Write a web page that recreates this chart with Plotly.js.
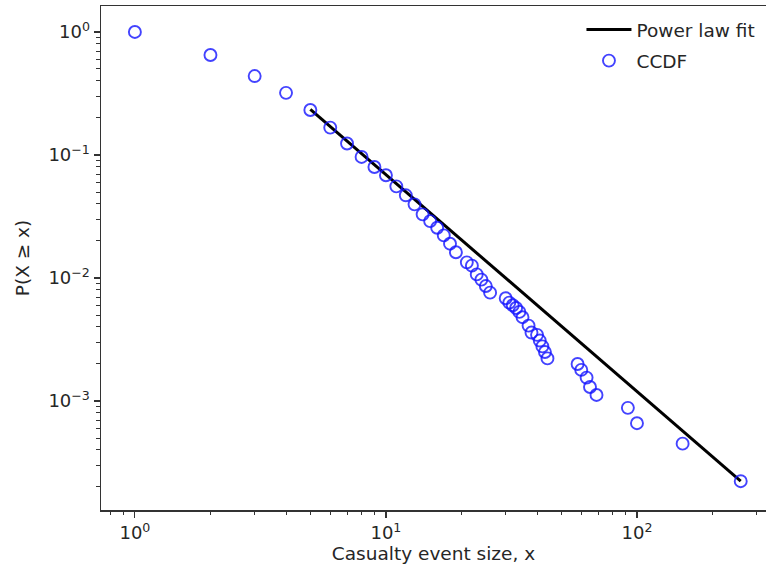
<!DOCTYPE html>
<html>
<head>
<meta charset="utf-8">
<script src="https://cdn.plot.ly/plotly-3.0.1.min.js"></script>
<style>html,body{margin:0;padding:0;background:#fff;}#chart{width:766px;height:575px;}</style>
</head>
<body>
<div id="chart"></div>
<script>
// CCDF data
const eventSize = [1, 2, 3, 4, 5, 6, 7, 8, 9, 10, 11, 12, 13, 14, 15, 16, 17, 18, 19, 21, 22, 23, 24, 25, 26,
  30, 31, 32, 33, 34, 35, 37, 38, 40, 41, 42, 43, 44, 58, 60, 63, 65, 69, 92, 100, 152, 259];
const ccdf = [1.0, 0.65, 0.438, 0.32, 0.232, 0.167, 0.124, 0.0964, 0.0798, 0.0684, 0.0556, 0.047, 0.0397, 0.0329,
  0.029, 0.0256, 0.0222, 0.019, 0.0162, 0.0134, 0.0126, 0.0107, 0.0097, 0.0086, 0.0076,
  0.00684, 0.0063, 0.006, 0.0057, 0.0053, 0.0048, 0.0041, 0.0036, 0.00345, 0.0031, 0.00278, 0.0025, 0.00222,
  0.0020, 0.00179, 0.00155, 0.0013, 0.00112, 0.00088, 0.00066, 0.00045, 0.000223];
// power-law fit endpoints
const fitX = [5, 259];
const fitY = [0.235, 0.000223];

const xMajor = [1, 10, 100];
const xMajorText = ['10<sup>0</sup>', '10<sup>1</sup>', '10<sup>2</sup>'];
const yMajor = [1, 0.1, 0.01, 0.001];
const yMajorText = ['10<sup>0</sup>', '10<sup>\u22121</sup>', '10<sup>\u22122</sup>', '10<sup>\u22123</sup>'];

function minorTicks(lo, hi) {
  const out = [];
  for (let e = lo; e <= hi; e++) {
    for (let m = 2; m <= 9; m++) out.push(m * Math.pow(10, e));
  }
  return out;
}

const font = 'DejaVu Sans, sans-serif';
const axisColor = '#333';
const textColor = '#262626';

const traces = [
  {
    x: fitX, y: fitY, mode: 'lines', name: 'Power law fit',
    line: {color: '#000', width: 3}, legendgroup: 'a'
  },
  {
    x: eventSize, y: ccdf, mode: 'markers', name: 'CCDF',
    marker: {symbol: 'circle-open', size: 12, color: 'rgba(20,20,255,0.8)', line: {width: 1.9}},
    legendgroup: 'b'
  }
];

const layout = {
  width: 766, height: 575,
  margin: {l: 101, r: 0, t: 6, b: 65},
  paper_bgcolor: '#fff', plot_bgcolor: '#fff',
  font: {family: font, size: 18, color: textColor},
  showlegend: true,
  legend: {
    x: 0.7225, y: 0.99, xanchor: 'left', yanchor: 'top',
    bgcolor: 'rgba(0,0,0,0)', borderwidth: 0,
    font: {family: font, size: 18.5, color: textColor},
    traceorder: 'grouped', tracegroupgap: 4, itemwidth: 45
  },
  xaxis: {
    type: 'log', range: [-0.135, 2.514],
    showgrid: false, zeroline: false,
    showline: true, linecolor: axisColor, linewidth: 1.5, mirror: true,
    ticks: 'outside', ticklen: 6, tickwidth: 1.2, tickcolor: axisColor,
    tickmode: 'array', tickvals: xMajor, ticktext: xMajorText,
    tickfont: {family: font, size: 18, color: textColor},
    minor: {tickmode: 'array', tickvals: minorTicks(-1, 2), ticks: 'outside', ticklen: 3.5, tickwidth: 1, tickcolor: axisColor, showgrid: false},
    title: {text: 'Casualty event size, x', font: {family: font, size: 18.5, color: textColor}, standoff: 5}
  },
  yaxis: {
    type: 'log', range: [-3.886, 0.211],
    showgrid: false, zeroline: false,
    showline: true, linecolor: axisColor, linewidth: 1.5, mirror: false,
    ticks: 'outside', ticklen: 6, tickwidth: 1.2, tickcolor: axisColor,
    tickmode: 'array', tickvals: yMajor, ticktext: yMajorText,
    tickfont: {family: font, size: 18, color: textColor},
    minor: {tickmode: 'array', tickvals: minorTicks(-4, 0), ticks: 'outside', ticklen: 3.5, tickwidth: 1, tickcolor: axisColor, showgrid: false},
    title: {text: 'P(X \u2265 x)', font: {family: font, size: 18.5, color: textColor}, standoff: 14}
  }
};

Plotly.newPlot('chart', traces, layout, {displayModeBar: false, staticPlot: true});
</script>
</body>
</html>
